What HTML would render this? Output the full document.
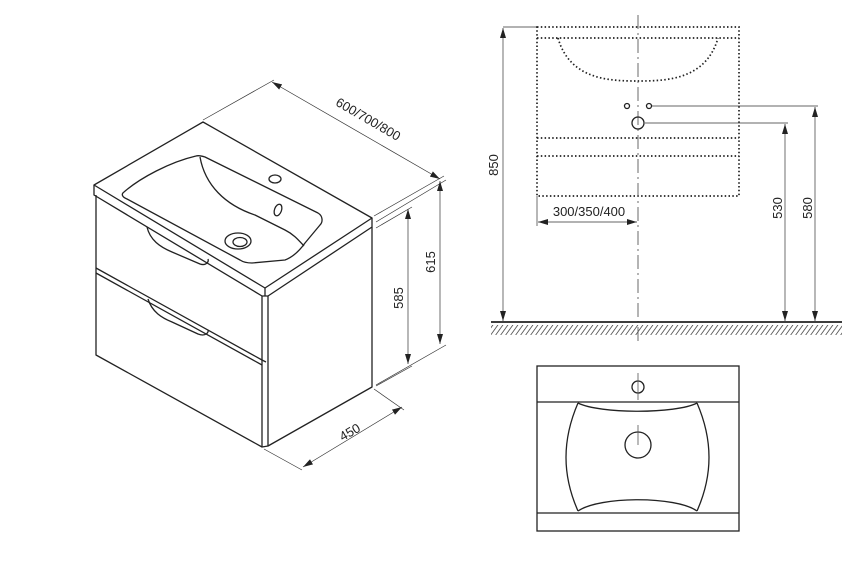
<!DOCTYPE html>
<html><head><meta charset="utf-8"><style>
html,body{margin:0;padding:0;background:#fff;}
svg{display:block}
text{font-family:"Liberation Sans",sans-serif;font-size:13px;fill:#222}
</style></head><body>
<svg width="852" height="567" viewBox="0 0 852 567">
<defs>
<marker id="a" viewBox="0 0 10 6" refX="10" refY="3" markerWidth="10" markerHeight="6" orient="auto-start-reverse" markerUnits="userSpaceOnUse"><path d="M0,0 L10,3 L0,6z" fill="#222"/></marker>
<pattern id="h" width="5" height="14" patternUnits="userSpaceOnUse"><line x1="5" y1="0" x2="-5" y2="14" stroke="#555" stroke-width="0.8"/><line x1="10" y1="0" x2="0" y2="14" stroke="#555" stroke-width="0.8"/></pattern>
</defs>
<g fill="none" stroke="#222" stroke-width="1.3" stroke-linejoin="round">
<path d="M94,185 L203,122 L372,218 L265,288 Z"/>
<path d="M94,185 L94,195 L262,296 L268,296 L372,227 L372,218"/>
<path d="M265,288 L265,296"/>
<path d="M96,195 L96,355 L262,447 L268,446 L372,387 L372,227"/>
<path d="M262,296 L262,447 M268,296 L268,446"/>
<path d="M96,268 L262,360 L266,362"/>
<path d="M96,273 L262,365"/>
<path d="M147,227 C150,240 160,247 172,252 L200,264 C206,266 209,262 208,259"/>
<path d="M148,299 C152,312 162,318 172,322 L198,334 C206,337 209,332 208,330"/>
<path d="M124,192 C140,178 170,162 196,156 C199,155 202,156 205,157 L318,213 C323,216 323,222 320,225 L305,243 C300,250 293,257 285,260 L252,263 C247,263 243,262 240,260 L127,199 C122,197 121,194 124,192 Z"/>
<path d="M200,157 C205,185 225,205 255,215 L285,230 C295,235 300,242 304,246"/>
<ellipse cx="238" cy="241" rx="13" ry="8"/>
<ellipse cx="240" cy="242" rx="7" ry="4.5"/>
<ellipse cx="275" cy="179" rx="6" ry="4"/>
<ellipse cx="278" cy="210" rx="3.5" ry="6" transform="rotate(20 278 210)"/>
</g>
<g stroke="#333" stroke-width="0.7" fill="none">
<path d="M203,120 L274,80 M374,216 L444,176"/>
<path d="M272,82 L440,179" marker-start="url(#a)" marker-end="url(#a)"/>
<path d="M376,222 L446,180 M376,385 L446,345"/>
<path d="M440,181 L440,344" marker-start="url(#a)" marker-end="url(#a)"/>
<path d="M376,228 L412,207 M376,386 L412,366"/>
<path d="M408,209 L408,364" marker-start="url(#a)" marker-end="url(#a)"/>
<path d="M374,389 L404,410 M264,449 L302,470"/>
<path d="M402,407 L303,467" marker-start="url(#a)" marker-end="url(#a)"/>
</g>
<text transform="translate(366,123) rotate(30)" text-anchor="middle">600/700/800</text>
<text transform="translate(435,262) rotate(-90)" text-anchor="middle">615</text>
<text transform="translate(403,298) rotate(-90)" text-anchor="middle">585</text>
<text transform="translate(352,436) rotate(-30)" text-anchor="middle">450</text>

<g fill="none" stroke="#222" stroke-width="1.7" stroke-dasharray="1.5 2.3">
<rect x="537" y="27" width="202" height="169"/>
<path d="M537,38 L739,38 M537,138 L739,138 M537,156 L739,156"/>
<path d="M558,38 C570,80 610,81 638,81 C666,81 706,80 718,38"/>
</g>
<g stroke="#444" stroke-width="0.8" fill="none">
<path d="M638,15 L638,345" stroke-dasharray="14 4 2 4"/>
</g>
<g fill="none" stroke="#222" stroke-width="1.3">
<circle cx="627" cy="106" r="2.5"/><circle cx="649" cy="106" r="2.5"/>
<circle cx="638" cy="123" r="6"/>
</g>
<g stroke="#333" stroke-width="0.7" fill="none">
<path d="M503,27 L537,27 M537,196 L537,226 M652,106 L818,106 M645,123 L788,123"/>
<path d="M503,28 L503,321" marker-start="url(#a)" marker-end="url(#a)"/>
<path d="M538,222 L637,222" marker-start="url(#a)" marker-end="url(#a)"/>
<path d="M785,124 L785,321" marker-start="url(#a)" marker-end="url(#a)"/>
<path d="M815,107 L815,321" marker-start="url(#a)" marker-end="url(#a)"/>
</g>
<rect x="491" y="322" width="351" height="13" fill="url(#h)"/>
<rect x="491" y="322" width="351" height="3" fill="#fff"/>
<line x1="491" y1="322" x2="842" y2="322" stroke="#222" stroke-width="1.8"/>
<text transform="translate(498,165) rotate(-90)" text-anchor="middle">850</text>
<text x="589" y="216" text-anchor="middle">300/350/400</text>
<text transform="translate(782,208) rotate(-90)" text-anchor="middle">530</text>
<text transform="translate(812,208) rotate(-90)" text-anchor="middle">580</text>

<g fill="none" stroke="#222" stroke-width="1.3">
<rect x="537" y="366" width="202" height="165"/>
<path d="M537,402 L739,402 M537,513 L739,513"/>
<path d="M578,403 C600,414 676,414 697,403"/>
<path d="M578,403 C562,440 562,475 578,511"/>
<path d="M697,403 C713,440 713,475 697,511"/>
<path d="M578,511 C600,496 676,496 697,511"/>
<circle cx="638" cy="387" r="6"/>
<circle cx="638" cy="445" r="13"/>
</g>
<g stroke="#555" stroke-width="0.8">
<path d="M638,373 L638,400 M638,425 L638,445"/>
</g>
</svg>
</body></html>
